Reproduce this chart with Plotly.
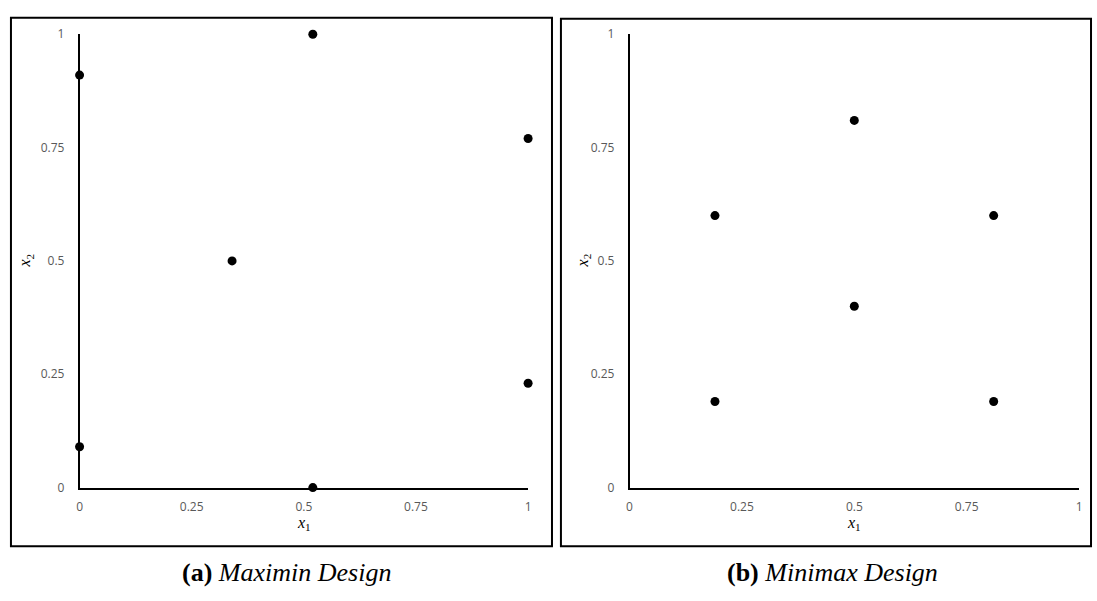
import plotly.graph_objects as go

# Data
maximin_x1 = [0.0, 0.52, 1.0, 0.34, 1.0, 0.0, 0.52]
maximin_x2 = [0.91, 1.0, 0.77, 0.5, 0.23, 0.09, 0.0]
minimax_x1 = [0.19, 0.5, 0.81, 0.5, 0.19, 0.81]
minimax_x2 = [0.6, 0.81, 0.6, 0.4, 0.19, 0.19]
tick_vals = [0, 0.25, 0.5, 0.75, 1]
tick_text = ["0", "0.25", "0.5", "0.75", "1"]
captions = ["<b>(a)</b> <i>Maximin Design</i>", "<b>(b)</b> <i>Minimax Design</i>"]

W, H = 1097, 601

def px(x):
    return x / W

def py(y):
    return 1 - y / H

fig = go.Figure()
fig.add_trace(go.Scatter(x=maximin_x1, y=maximin_x2, mode="markers",
                         marker=dict(color="black", size=9), cliponaxis=False,
                         xaxis="x", yaxis="y", showlegend=False))
fig.add_trace(go.Scatter(x=minimax_x1, y=minimax_x2, mode="markers",
                         marker=dict(color="black", size=9), cliponaxis=False,
                         xaxis="x2", yaxis="y2", showlegend=False))

tickfont = dict(family="Open Sans, Liberation Sans, sans-serif", size=12, color="#595959")
common_x = dict(range=[0, 1], tickvals=tick_vals, ticktext=tick_text, showgrid=False,
                zeroline=False, showline=True, linecolor="black", linewidth=1.5,
                ticks="outside", ticklen=7, tickcolor="rgba(0,0,0,0)", tickfont=tickfont,
                fixedrange=True)
common_y = dict(range=[0, 1], tickvals=tick_vals, ticktext=tick_text, showgrid=False,
                zeroline=False, showline=True, linecolor="black", linewidth=1.5,
                ticks="outside", ticklen=11, tickcolor="rgba(0,0,0,0)", tickfont=tickfont,
                fixedrange=True)

ydom = [py(492.5), py(26)]
fig.update_layout(
    width=W, height=H,
    margin=dict(l=0, r=0, t=0, b=0),
    paper_bgcolor="white", plot_bgcolor="white",
    xaxis=dict(domain=[px(77), px(528)], anchor="y", **common_x),
    yaxis=dict(domain=ydom, anchor="x", **common_y),
    xaxis2=dict(domain=[px(630), px(1082)], anchor="y2", **common_x),
    yaxis2=dict(domain=ydom, anchor="x2", **common_y),
)

# Panel frames
for x0, x1, y0, y1 in [(8, 552, 9, 553), (561, 1094, 10, 553)]:
    fig.add_shape(type="rect", xref="paper", yref="paper",
                  x0=px(x0), x1=px(x1), y0=py(y1), y1=py(y0),
                  line=dict(color="black", width=2), fillcolor="rgba(0,0,0,0)")

titlefont = dict(family="Liberation Serif, DejaVu Serif, serif", size=16, color="black")
# Axis titles
for cx, tx in [(302.5, 23), (856, 584)]:
    fig.add_annotation(xref="paper", yref="paper", x=px(cx), y=py(529),
                       text="<i>x</i><sub>1</sub>", showarrow=False, font=titlefont,
                       xanchor="center", yanchor="middle")
    fig.add_annotation(xref="paper", yref="paper", x=px(tx), y=py(259),
                       text="<i>x</i><sub>2</sub>", showarrow=False, font=titlefont,
                       textangle=-90, xanchor="center", yanchor="middle")

capfont = dict(family="Liberation Serif, Times New Roman, serif", size=26, color="black")
for cx, txt in [(285, captions[0]), (834, captions[1])]:
    fig.add_annotation(xref="paper", yref="paper", x=px(cx), y=py(580),
                       text=txt, showarrow=False, font=capfont,
                       xanchor="center", yanchor="middle")

fig.write_html("out.html")
